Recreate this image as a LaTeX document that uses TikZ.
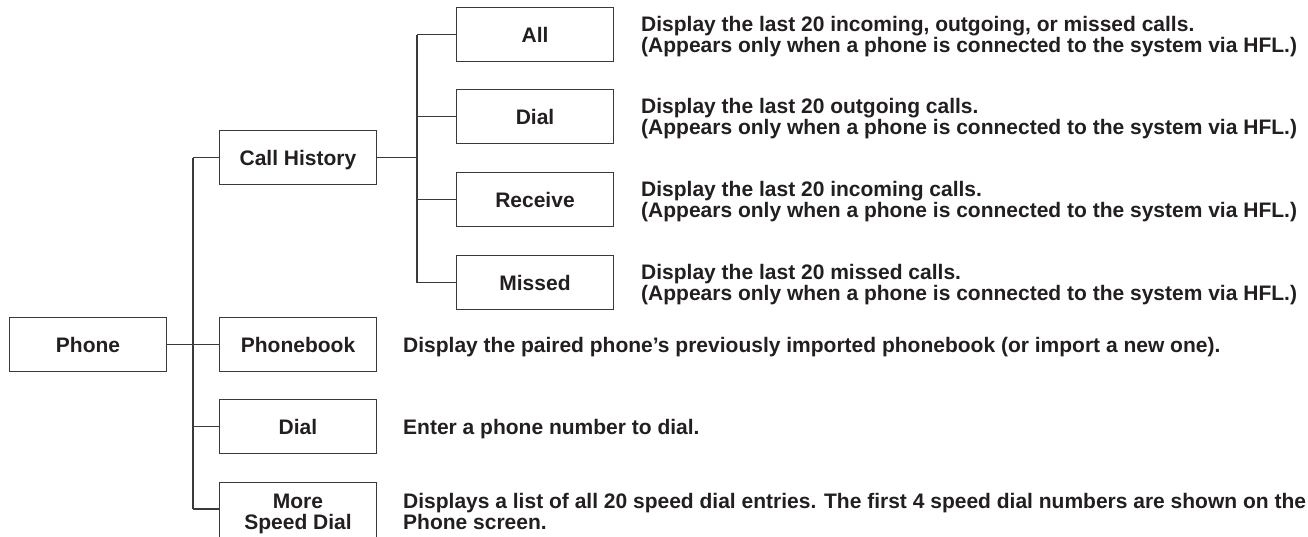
\documentclass[tikz,border=0pt]{standalone}
\usepackage{fontspec}
\setmainfont{Liberation Sans}
\usepackage{xcolor}
\usepackage{tikz}
\usetikzlibrary{positioning,calc}

\definecolor{ink}{HTML}{231F20}
\definecolor{rule}{HTML}{3A3A3A}

\begin{document}
\begin{tikzpicture}[
  x=1pt, y=-1pt,
  box/.style={draw=rule, line width=1.2pt, minimum width=157pt, minimum height=54pt, inner sep=0pt,
    align=center, text=ink, font=\fontsize{21}{21}\selectfont\bfseries, text height=15pt, text depth=0pt},
  desc/.style={anchor=west, align=left, inner sep=0pt, text=ink,
    font=\fontsize{21}{21}\selectfont\bfseries, text height=15pt, text depth=0pt},
  twoline/.style={text height=36pt},
  link/.style={draw=rule, line width=1.2pt}
]
\useasboundingbox (0,0) rectangle (1308,536);

% first level
\node[box] (phone) at (88, 344.5) {Phone};

\node[box] (callhist) at (298, 157.5) {Call History};
\node[box] (phonebook) at (298, 344.5) {Phonebook};
\node[box] (dial) at (298, 426.5) {Dial};
\node[box, twoline, anchor=north, minimum height=62pt, text depth=4pt] (speed) at (298, 481.5) {More\\Speed Dial};

% call history entries
\node[box] (all) at (535, 34.5) {All};
\node[box] (dialed) at (535, 116.5) {Dial};
\node[box] (receive) at (535, 199.5) {Receive};
\node[box] (missed) at (535, 282.5) {Missed};

% descriptions
\node[desc, twoline] (allinfo) at (641, 34.5) {Display the last 20 incoming, outgoing, or missed calls.\\(Appears only when a phone is connected to the system via HFL.)};
\node[desc, twoline] (dialedinfo) at (641, 116.5) {Display the last 20 outgoing calls.\\(Appears only when a phone is connected to the system via HFL.)};
\node[desc, twoline] (receiveinfo) at (641, 199.5) {Display the last 20 incoming calls.\\(Appears only when a phone is connected to the system via HFL.)};
\node[desc, twoline] (missedinfo) at (641, 282.5) {Display the last 20 missed calls.\\(Appears only when a phone is connected to the system via HFL.)};

\node[desc] (phonebookinfo) at (403, 344.5) {Display the paired phone’s previously imported phonebook (or import a new one).};
\node[desc] (dialinfo) at (403, 426.5) {Enter a phone number to dial.};
\node[desc, twoline] (speedinfo) at (403, 511) {Displays a list of all 20 speed dial entries. The first 4 speed dial numbers are shown on the\\Phone screen.};

% connectors
\coordinate (trunk1) at (193, 344.5);
\coordinate (trunk2) at (417, 157.5);
\coordinate (speedin) at ([yshift=-27.5pt]speed.north west);

\draw[link] (phone) -- (phonebook);
\draw[link] (trunk1 |- callhist.west) -- (trunk1 |- speedin);
\foreach \n in {callhist.west, dial.west, speedin}
  \draw[link] (trunk1 |- \n) -- (\n);

\draw[link] (callhist) -- (trunk2);
\draw[link] (trunk2 |- all.west) -- (trunk2 |- missed.west);
\foreach \n in {all, dialed, receive, missed}
  \draw[link] (trunk2 |- \n.west) -- (\n.west);

\end{tikzpicture}
\end{document}
